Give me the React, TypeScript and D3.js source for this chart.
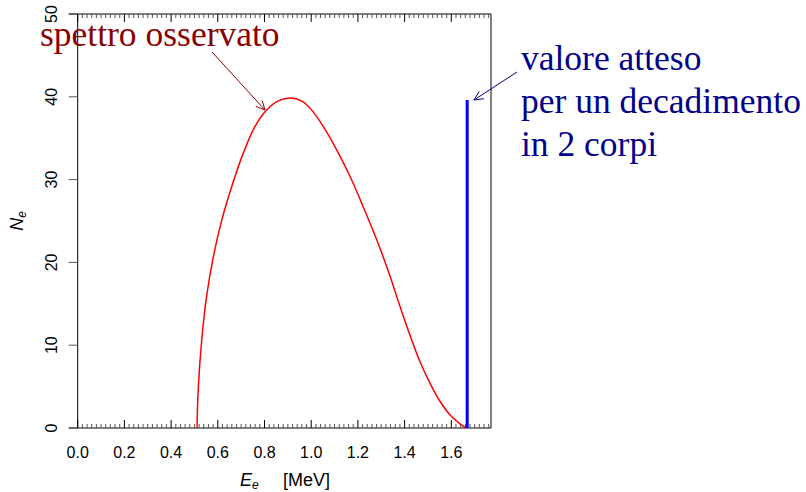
import React from "react";
import * as d3 from "d3";

// ---- data ----
const energies = [0.511, 0.516, 0.531, 0.552, 0.581, 0.617, 0.659, 0.709, 0.759, 0.809, 0.859, 0.915, 0.965, 1.005, 1.052, 1.109, 1.166, 1.223, 1.281, 1.337, 1.38, 1.423, 1.466, 1.509, 1.552, 1.594, 1.637, 1.665];
const counts = [0, 4.6, 10.6, 15.9, 20.7, 25.1, 29.1, 33.2, 36.4, 38.4, 39.5, 39.85, 39.4, 38.3, 36.4, 33.6, 30.4, 26.7, 22.7, 18.4, 14.7, 11.2, 8.0, 5.4, 3.2, 1.6, 0.5, 0];
const twoBodyEnergy = 1.668;
const twoBodyCount = 39.6;
const xMajorTicks = [0, 0.2, 0.4, 0.6, 0.8, 1.0, 1.2, 1.4, 1.6];
const xMinorStep = 0.02;
const xMinorMax = 1.76;
const yTicks = [0, 10, 20, 30, 40, 50];
const observedLabel = "spettro osservato";
const expectedLabel = ["valore atteso", "per un decadimento", "in 2 corpi"];

const W = 806;
const H = 492;
const left = 77.7, right = 491, top = 14, bottom = 428;

export default function App() {
  const x = d3.scaleLinear().domain([0, 1.77]).range([left, right]);
  const y = d3.scaleLinear().domain([0, 50]).range([bottom, top]);

  const pts: [number, number][] = energies.map((e, i) => [e, counts[i]]);
  const line = d3
    .line<[number, number]>()
    .x((d) => x(d[0]))
    .y((d) => y(d[1]))
    .curve(d3.curveCatmullRom.alpha(0.5));

  const minor: number[] = [];
  const nMinor = Math.round(xMinorMax / xMinorStep);
  for (let i = 0; i <= nMinor; i++) {
    if (i % 10 !== 0) minor.push(i * xMinorStep);
  }

  const sans = "'Liberation Sans', Arial, Helvetica, sans-serif";
  const serif = "'Liberation Serif', 'Times New Roman', serif";

  const arrowHead = (x0: number, y0: number, x1: number, y1: number, len: number, color: string) => {
    const ang = Math.atan2(y1 - y0, x1 - x0);
    const a = Math.PI / 7;
    const p1 = [x1 - len * Math.cos(ang - a), y1 - len * Math.sin(ang - a)];
    const p2 = [x1 - len * Math.cos(ang + a), y1 - len * Math.sin(ang + a)];
    return (
      <g stroke={color} strokeWidth={1} fill="none">
        <line x1={x0} y1={y0} x2={x1} y2={y1} />
        <polyline points={`${p1[0]},${p1[1]} ${x1},${y1} ${p2[0]},${p2[1]}`} />
      </g>
    );
  };

  return (
    <svg
      width={W}
      height={H}
      style={{ position: "absolute", left: 0, top: 0, background: "#fff" }}
    >
      <rect x={0} y={0} width={W} height={H} fill="#fff" />
      {/* frame */}
      <line x1={left} y1={top} x2={left} y2={bottom} stroke="#000" />
      <line x1={right} y1={top} x2={right} y2={bottom} stroke="#000" />
      <line x1={left - 9} y1={bottom} x2={right} y2={bottom} stroke="#000" />
      <line x1={left - 9} y1={top} x2={right} y2={top} stroke="#000" />

      {/* x minor ticks (inside, bottom & top) */}
      {minor.map((v, i) => (
        <g key={"m" + i} stroke="#555" strokeWidth={1}>
          <line x1={x(v)} x2={x(v)} y1={bottom} y2={bottom - 4} />
          <line x1={x(v)} x2={x(v)} y1={top} y2={top + 4} />
        </g>
      ))}
      {xMajorTicks.map((v, i) => (
        <g key={"M" + i}>
          <line x1={x(v)} x2={x(v)} y1={bottom} y2={bottom - 8} stroke="#000" />
          <line x1={x(v)} x2={x(v)} y1={top} y2={top + 8} stroke="#000" />
          <text
            x={x(v)}
            y={458}
            textAnchor="middle"
            fontFamily={sans}
            fontSize={16}
            fill="#000"
          >
            {v.toFixed(1)}
          </text>
        </g>
      ))}

      {/* y ticks */}
      {yTicks.map((v, i) => (
        <g key={"y" + i}>
          <line x1={left - 9} x2={left} y1={y(v)} y2={y(v)} stroke="#555" />
          <text
            transform={`translate(57,${y(v)}) rotate(-90)`}
            textAnchor="middle"
            fontFamily={sans}
            fontSize={16}
            fill="#000"
          >
            {v}
          </text>
        </g>
      ))}

      {/* axis labels */}
      <text
        transform={`translate(23,221) rotate(-90)`}
        textAnchor="middle"
        fontFamily={sans}
        fontSize={18}
        fill="#000"
      >
        <tspan fontStyle="italic">N</tspan>
        <tspan fontStyle="italic" fontSize={12} dy={3}>e</tspan>
      </text>
      <text x={240} y={486} fontFamily={sans} fontSize={18} fill="#000">
        <tspan fontStyle="italic">E</tspan>
        <tspan fontStyle="italic" fontSize={12} dy={2.5}>e</tspan>
      </text>
      <text x={283} y={486} fontFamily={sans} fontSize={18} fill="#000">
        [MeV]
      </text>

      {/* spectrum */}
      <path d={line(pts) || ""} fill="none" stroke="#ff0000" strokeWidth={1.5} />

      {/* two-body line */}
      <line
        x1={x(twoBodyEnergy)}
        x2={x(twoBodyEnergy)}
        y1={y(0)}
        y2={y(twoBodyCount)}
        stroke="#0000ff"
        strokeWidth={3}
      />

      {/* annotations */}
      <text x={40} y={46} fontFamily={serif} fontSize={35.5} fill="#8b0000">
        {observedLabel}
      </text>
      {arrowHead(212, 52, 265, 110, 10, "#8b0000")}

      {expectedLabel.map((t, i) => (
        <text
          key={t}
          x={521}
          y={70 + i * 43}
          fontFamily={serif}
          fontSize={35.5}
          fill="#00008b"
        >
          {t}
        </text>
      ))}
      {arrowHead(517, 72, 474, 100, 10, "#00008b")}
    </svg>
  );
}
